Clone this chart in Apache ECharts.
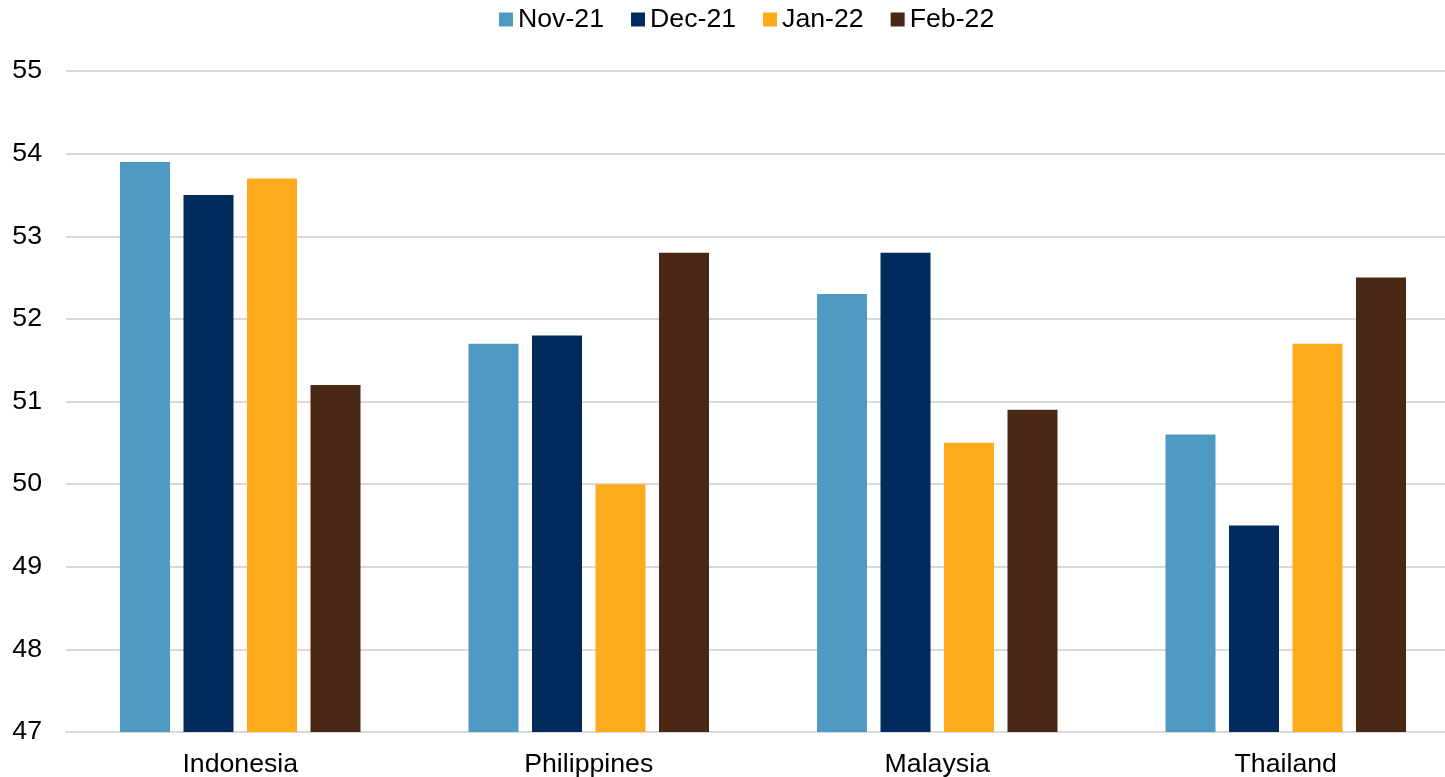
<!DOCTYPE html>
<html>
<head>
<meta charset="utf-8">
<style>
  html, body { margin: 0; padding: 0; background: #fff; }
  #chart { width: 1445px; height: 777px; }
</style>
<script src="https://cdn.jsdelivr.net/npm/echarts@6/dist/echarts.min.js"></script>
</head>
<body>
<div id="chart"></div>
<script>
// Manufacturing PMI by country, last four months
const countries = ['Indonesia', 'Philippines', 'Malaysia', 'Thailand'];
const months = ['Nov-21', 'Dec-21', 'Jan-22', 'Feb-22'];
const nov21 = [53.9, 51.7, 52.3, 50.6];
const dec21 = [53.5, 51.8, 52.8, 49.5];
const jan22 = [53.7, 50.0, 50.5, 51.7];
const feb22 = [51.2, 52.8, 50.9, 52.5];
const colors = ['#4F9AC2', '#002B5C', '#FDAB1B', '#4B2716'];

const seriesData = [nov21, dec21, jan22, feb22];
const font = 'Liberation Sans, Arial, sans-serif';

const chart = echarts.init(document.getElementById('chart'));
chart.setOption({
  animation: false,
  color: colors,
  textStyle: { fontFamily: font },
  legend: {
    top: 1,
    left: 494,
    itemWidth: 14,
    itemHeight: 14,
    itemGap: 27,
    icon: 'rect',
    textStyle: { fontSize: 26.7, color: '#000', fontFamily: font },
    data: months
  },
  grid: { left: 66, right: -15, top: 71, bottom: 45, containLabel: false, outerBoundsMode: 'none' },
  xAxis: {
    type: 'category',
    data: countries,
    axisTick: { show: false },
    axisLine: { lineStyle: { color: '#D9D9D9', width: 2 } },
    axisLabel: { fontSize: 26.7, color: '#000', margin: 19, fontFamily: font }
  },
  yAxis: {
    type: 'value',
    min: 47,
    max: 55,
    interval: 1,
    axisLine: { show: false },
    axisTick: { show: false },
    splitLine: { lineStyle: { color: '#D9D9D9', width: 2 } },
    axisLabel: { fontSize: 26.7, color: '#000', margin: 24, fontFamily: font }
  },
  series: months.map((m, i) => ({
    name: m,
    type: 'bar',
    data: seriesData[i],
    barWidth: 50,
    barGap: '27%',
    itemStyle: { color: colors[i] }
  }))
});
</script>
</body>
</html>
